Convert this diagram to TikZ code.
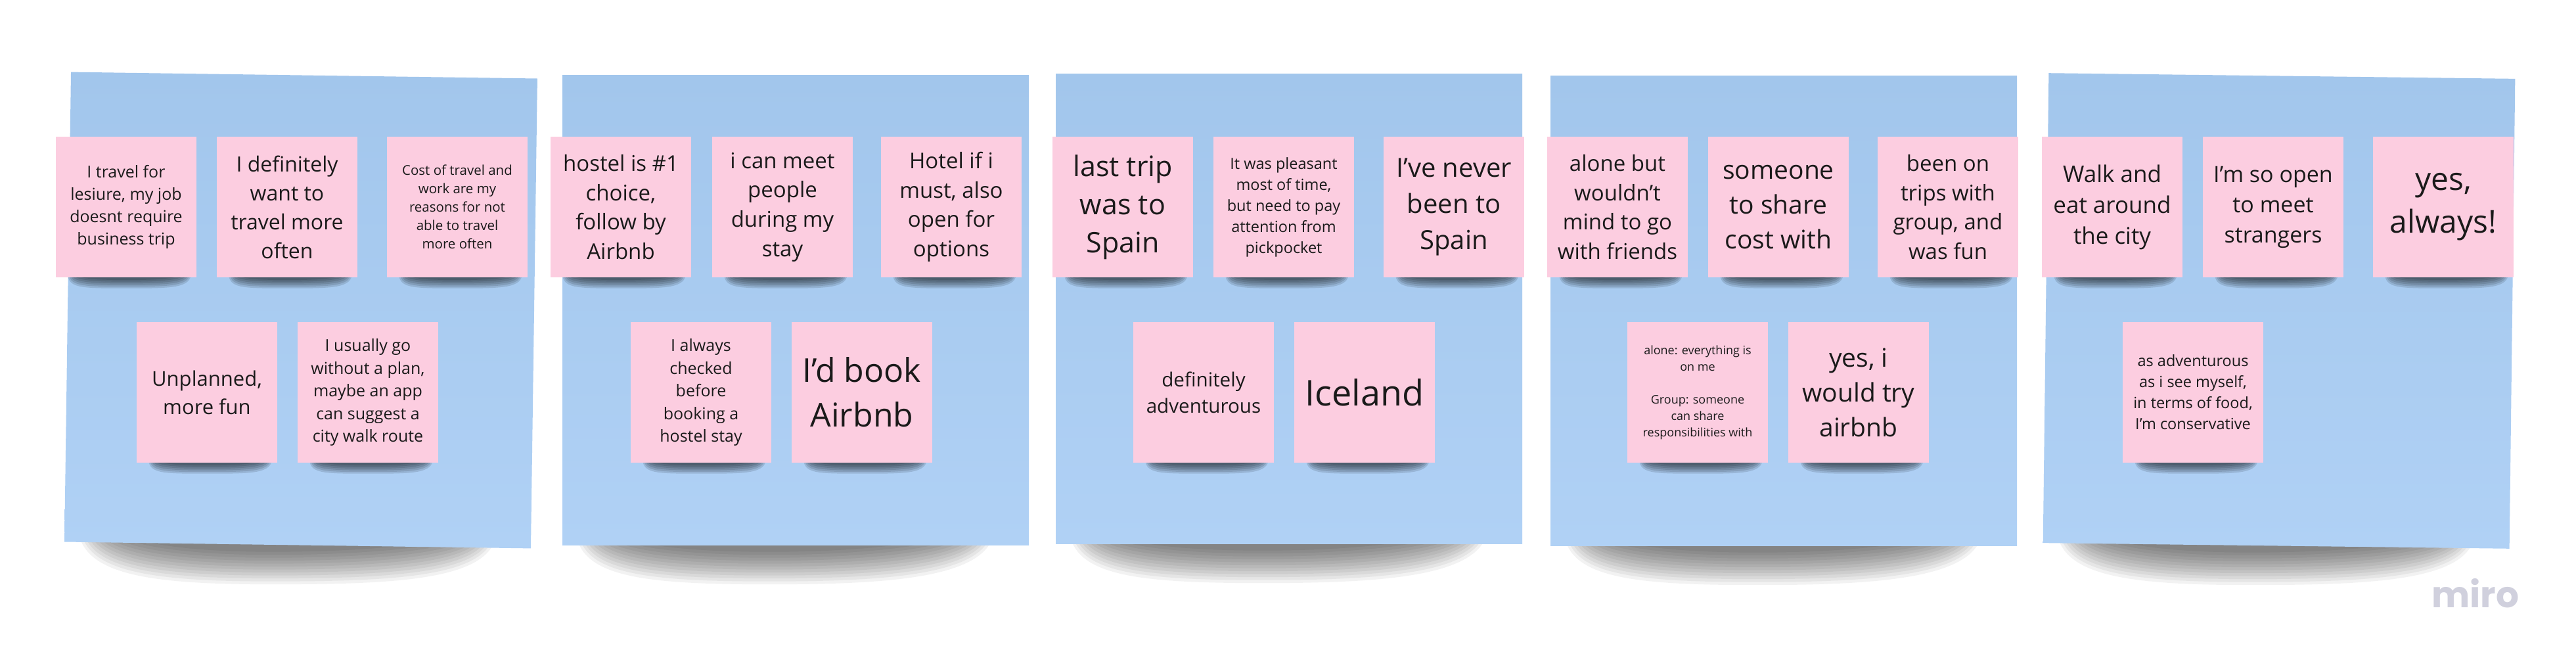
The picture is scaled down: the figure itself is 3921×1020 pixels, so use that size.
\documentclass[tikz,border=0pt]{standalone}
\usepackage{fontspec}
\setmainfont{Open Sans}
\newfontfamily\logofont{Poppins}
\definecolor{boardtop}{RGB}{162,198,236}
\definecolor{boardbot}{RGB}{176,209,245}
\definecolor{stickypink}{RGB}{252,205,224}
\definecolor{inktext}{RGB}{26,26,26}
\definecolor{logogray}{RGB}{208,208,221}
\pgfdeclarelayer{boardshade}
\pgfdeclarelayer{boardlayer}
\pgfdeclarelayer{stickyshade}
\pgfsetlayers{boardshade,boardlayer,stickyshade,main}
\begin{document}
\begin{tikzpicture}[x=1pt,y=-1pt,
  board/.style={minimum width=710,minimum height=715,inner sep=0,top color=boardtop,bottom color=boardbot},
  sticky/.style 2 args={minimum size=214,inner sep=0,fill=stickypink,text=inktext,align=center,
    font=\fontsize{#1}{#2}\selectfont},
  boardshadow/.style={fill=black,opacity=0.05},
  stickyshadow/.style={fill=black,opacity=0.12}]

\begin{pgfonlayer}{boardshade}
\path[use as bounding box,fill=white] (0,0) rectangle (3921,1020);
\end{pgfonlayer}

\begin{pgfonlayer}{boardlayer}
\node[board,rotate=-0.8](P1) at (458,472){};
\node[board](P2) at (1211,472){};
\node[board](P3) at (1962,470){};
\node[board](P4) at (2715,473){};
\node[board,rotate=-0.7](P5) at (3469,473){};
\end{pgfonlayer}

\begin{pgfonlayer}{boardshade}
\foreach \p in {P1,P2,P3,P4,P5}
  \foreach \k in {0,...,11}
    \path[boardshadow] ([xshift={64-4*\k},yshift=30]\p.south west) -- ([xshift={-96+4*\k},yshift=30]\p.south east)
      .. controls +(0,{1.3*(10+4.5*\k)}) and +(200,0) .. ([xshift=-40,yshift={-(10+4.5*\k)}]\p.south)
      .. controls +(-200,0) and +(0,{1.3*(10+4.5*\k)}) .. ([xshift={64-4*\k},yshift=30]\p.south west) -- cycle;
\end{pgfonlayer}

\node[sticky={25}{34}](A1) at (192,315){I travel for\\lesiure, my job\\doesnt require\\business trip};
\node[sticky={32}{44}](A2) at (437,315){I definitely\\want to\\travel more\\often};
\node[sticky={20.5}{28}](A3) at (696,315){Cost of travel and\\work are my\\reasons for not\\able to travel\\more often};
\node[sticky={31}{43}](A4) at (315,597){Unplanned,\\more fun};
\node[sticky={25}{34.5}](A5) at (560,597){I usually go\\without a plan,\\maybe an app\\can suggest a\\city walk route};

\node[sticky={33}{44.6}](B1) at (945,315){hostel is \#1\\choice,\\follow by\\Airbnb};
\node[sticky={33}{44.6}](B2) at (1191,315){i can meet\\people\\during my\\stay};
\node[sticky={33}{44.6}](B3) at (1448,315){Hotel if i\\must, also\\open for\\options};
\node[sticky={25}{34.5}](B4) at (1067,597){I always\\checked\\before\\booking a\\hostel stay};
\node[sticky={50}{68}](B5) at (1312,597){I’d book\\Airbnb};

\node[sticky={43}{58}](C1) at (1709,315){last trip\\was to\\Spain};
\node[sticky={23.5}{32}](C2) at (1954,315){It was pleasant\\most of time,\\but need to pay\\attention from\\pickpocket};
\node[sticky={40}{55}](C3) at (2213,315){I’ve never\\been to\\Spain};
\node[sticky={29.6}{40}](C4) at (1832,597){definitely\\adventurous};
\node[sticky={54}{70}](C5) at (2077,597){Iceland};

\node[sticky={33}{44.6}](D1) at (2462,315){alone but\\wouldn’t\\mind to go\\with friends};
\node[sticky={39}{53}](D2) at (2707,315){someone\\to share\\cost with};
\node[sticky={33}{44.6}](D3) at (2965,315){been on\\trips with\\group, and\\was fun};
\node[sticky={18}{25}](D4) at (2584,597){alone: everything is\\on me\\[25pt]Group: someone\\can share\\responsibilities with};
\node[sticky={39}{53}](D5) at (2829,597){yes, i\\would try\\airbnb};

\node[sticky={35}{47}](E1) at (3215,315){Walk and\\eat around\\the city};
\node[sticky={34}{46}](E2) at (3460,315){I’m so open\\to meet\\strangers};
\node[sticky={48}{65}](E3) at (3719,315){yes,\\always!};
\node[sticky={23.5}{32}](E4) at (3338,597){as adventurous\\as i see myself,\\in terms of food,\\I’m conservative};

\begin{pgfonlayer}{stickyshade}
\foreach \s in {A1,A2,A3,A4,A5,B1,B2,B3,B4,B5,C1,C2,C3,C4,C5,D1,D2,D3,D4,D5,E1,E2,E3,E4}
  \foreach \k in {0,...,5}
    \path[stickyshadow] ([xshift={28-2*\k},yshift=8]\s.south west) -- ([xshift={-18+2*\k},yshift=8]\s.south east)
      .. controls +(0,{1.5*(4+2.5*\k)}) and +(70,0) .. ([yshift={-(4+2.5*\k)}]\s.south)
      .. controls +(-70,0) and +(0,{1.5*(4+2.5*\k)}) .. ([xshift={28-2*\k},yshift=8]\s.south west) -- cycle;
\end{pgfonlayer}

\node[text=logogray,font=\logofont\bfseries\fontsize{55}{60}\selectfont](L) at (3768,903){miro};
\end{tikzpicture}
\end{document}
